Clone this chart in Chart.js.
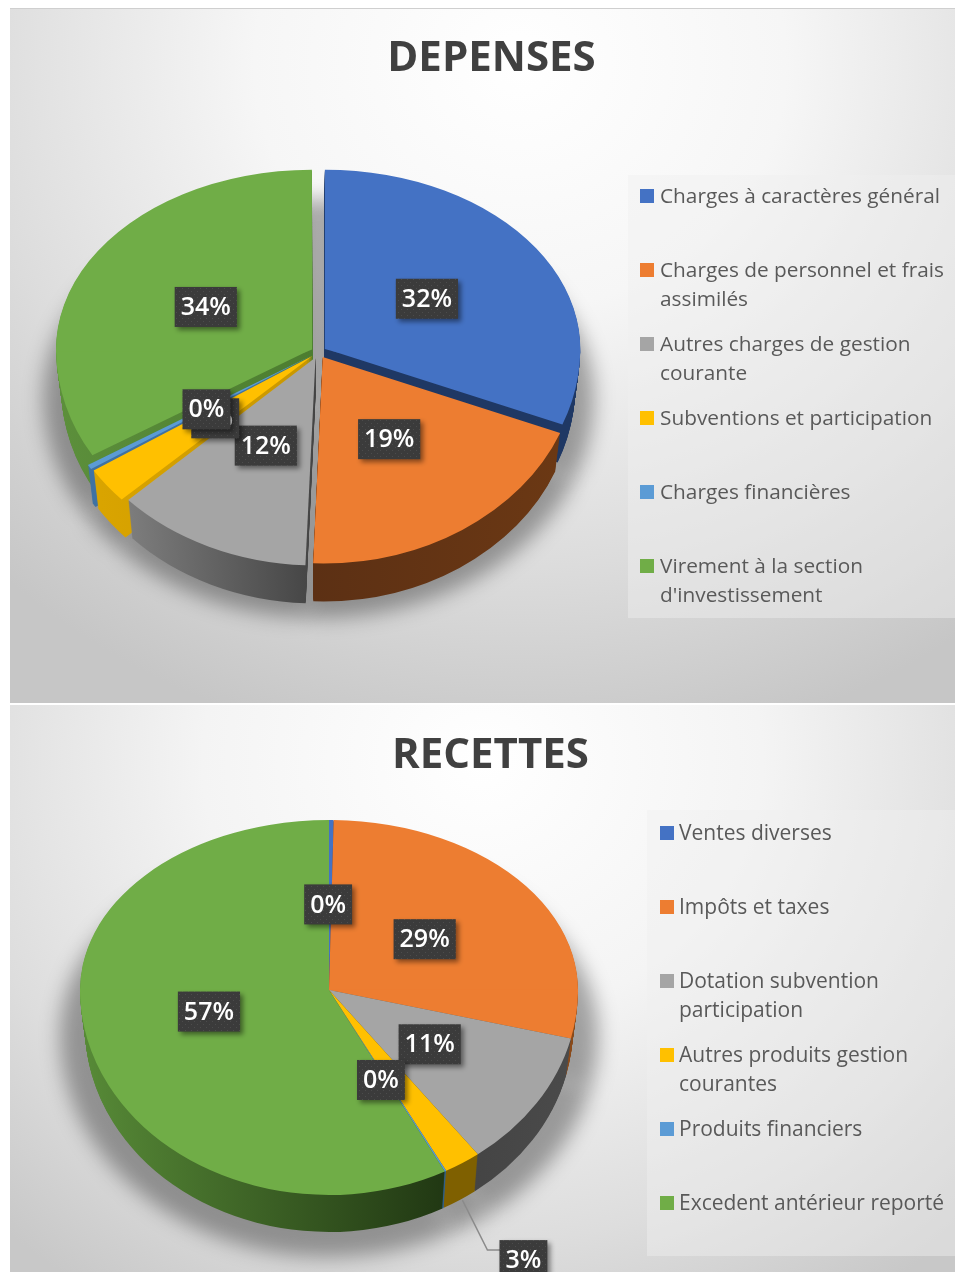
<!DOCTYPE html>
<html><head><meta charset="utf-8">
<style>
html,body{margin:0;padding:0;background:#fff;width:955px;height:1272px;overflow:hidden}
.panel{position:absolute;left:10px;width:945px;box-sizing:border-box}
#p1{top:8px;height:695px;background:radial-gradient(ellipse 760px 700px at 54% 8%,#ffffff 0%,#f6f6f6 35%,#dcdcdc 72%,#c6c6c6 100%);box-shadow:inset 0 1px 0 #cfcfcf}
#p2{top:705px;height:567px;background:radial-gradient(ellipse 700px 640px at 50% 10%,#ffffff 0%,#f4f4f4 40%,#dddddd 75%,#c8c8c8 100%)}
canvas{display:block;position:absolute;left:0;top:0}
</style>
<script src="https://cdn.jsdelivr.net/npm/chart.js@4"></script>
</head><body>
<div class="panel" id="p1"><canvas id="c1" width="945" height="695"></canvas></div>
<div class="panel" id="p2"><canvas id="c2" width="945" height="567"></canvas></div>
<script>
const depTitle = "DEPENSES";
const depCategories = ["Charges à caractères général","Charges de personnel et frais assimilés","Autres charges de gestion courante","Subventions et participation","Charges financières","Virement à la section d'investissement"];
const depValues = [31.0, 19.6, 12.4, 2.9, 0.5, 33.6];
const depPercents = ["32%","19%","12%","3%","0%","34%"];
const recTitle = "RECETTES";
const recCategories = ["Ventes diverses","Impôts et taxes","Dotation subvention participation","Autres produits gestion courantes","Produits financiers","Excedent antérieur reporté"];
const recValues = [0.3, 28.5, 11.0, 2.4, 0.1, 57.7];
const recPercents = ["0%","29%","11%","3%","0%","57%"];
const sliceColors = ["#4472c4","#ed7d31","#a5a5a5","#ffc000","#5b9bd5","#70ad47"];
const depSides = [["#1f3864","#1f3864"],["#5c3014","#6b3814"],["#7c7c7c","#444444"],["#d9a400","#c99700"],["#3f72a3","#3f72a3"],["#5c8f3b","#4c7d30"]];
const recSides = [["#203864","#203864"],["#8a4a1a","#8a4a1a"],["#3c3c3c","#4a4a4a"],["#7f6000","#7f6000"],["#2f5f8a","#2f5f8a"],["#578a37","#213813"]];

const FONT = '"Open Sans"';
let dotPattern = null;
function dots(ctx){
  if(dotPattern) return dotPattern;
  const c=document.createElement('canvas');c.width=c.height=6;
  const x=c.getContext('2d');x.fillStyle='#3b3b3b';x.fillRect(0,0,6,6);
  x.fillStyle='#4c4c4c';x.fillRect(1,1,1,1);x.fillRect(4,4,1,1);
  return dotPattern=ctx.createPattern(c,'repeat');
}
function paintArc(el,ctx,fill,noOffset){
  const p=Object.create(el);
  p.options=Object.assign({},el.options,{backgroundColor:fill,borderWidth:0});
  if(noOffset) p.options.offset=0;
  Chart.ArcElement.prototype.draw.call(p,ctx);
}
function mapped(chart,ctx,el,m,fn,lap){
  const split=el.y+m.dy, l=lap===undefined?0.5:lap;
  [[0,split+l,m.syT],[split-l,chart.height-split+1,m.syB]].forEach(([y,h,sy])=>{
    ctx.save();
    ctx.beginPath();ctx.rect(0,y,chart.width,h);ctx.clip();
    ctx.translate(el.x,split);ctx.scale(m.sx,sy);ctx.translate(-el.x,-el.y);
    fn();
    ctx.restore();
  });
}
function sideFill(ctx,el,stops){
  let a=Infinity,b=-Infinity;
  for(let i=0;i<=24;i++){
    const t=el.startAngle+(el.endAngle-el.startAngle)*i/24;
    const x=el.x+el.outerRadius*Math.cos(t);
    a=Math.min(a,x);b=Math.max(b,x);
  }
  a=Math.min(a,el.x);b=Math.max(b,el.x);
  const g=ctx.createLinearGradient(a,0,b,0);
  g.addColorStop(0,stops[0]);g.addColorStop(1,stops[1]);
  return g;
}
const pie3d={
  id:'pie3d',
  afterLayout(chart,args,o){
    chart.chartArea={left:o.cx-400,right:o.cx+400,top:o.cy-400,bottom:o.cy+400,width:800,height:800};
  },
  beforeDatasetsDraw(chart,args,o){
    const ctx=chart.ctx, arcs=chart.getDatasetMeta(0).data;
    const ds=chart.data.datasets[0];
    const R=arcs[0].outerRadius, top={dy:0,sx:1,syT:o.ryTop/R,syB:o.ryBottom/R};
    // legend backdrop
    ctx.save();ctx.fillStyle='rgba(240,240,240,0.45)';
    ctx.fillRect(o.legendBox[0],o.legendBox[1],o.legendBox[2],o.legendBox[3]);ctx.restore();
    // soft ground shadow
    ctx.save();ctx.filter='blur('+o.shadow.blur+'px)';
    const sh=o.shadow;
    arcs.forEach(el=>{
      if(el.circumference>0) mapped(chart,ctx,el,{dy:sh.dy,sx:sh.sx,syT:sh.ryTop/R,syB:sh.ryBottom/R},()=>paintArc(el,ctx,sh.color,true),0);
    });
    ctx.restore();
    // walls, bottom layer first; lower layers recede slightly
    const fills=arcs.map((el,i)=>sideFill(ctx,el,o.sides[i]));
    for(let d=o.depth;d>0;d--){
      const sx=1-(o.taper/R)*(d/o.depth);
      arcs.forEach((el,i)=>mapped(chart,ctx,el,{...top,dy:d,sx:sx},()=>paintArc(el,ctx,fills[i])));
    }
    // top faces
    arcs.forEach((el,i)=>mapped(chart,ctx,el,top,()=>paintArc(el,ctx,ds.backgroundColor[i])));
    // value boxes
    const centre=(el,frac)=>{
      const t=(el.startAngle+el.endAngle)/2, e=(el.options.offset||0)/4;
      const rx=Math.cos(t)*(R*frac+e), ry=Math.sin(t)*(R*frac+e);
      return {x:el.x+rx,y:el.y+ry*(ry<0?top.syT:top.syB)};
    };
    ctx.save();
    ctx.font='600 25px '+FONT;ctx.textAlign='center';ctx.textBaseline='middle';
    arcs.forEach((el,i)=>{
      const txt=o.percents[i];
      let p=centre(el,o.labelRadius);
      if(o.callout&&o.callout.index===i){
        const a=centre(el,1);a.y+=o.depth;
        p={x:a.x+o.callout.dx,y:a.y+o.callout.dy};
        ctx.save();ctx.strokeStyle='#8a8a8a';ctx.lineWidth=1.5;ctx.beginPath();
        ctx.moveTo(a.x,a.y);ctx.lineTo(p.x-36,p.y-10);ctx.lineTo(p.x-22,p.y-10);ctx.stroke();ctx.restore();
      } else {
        p.x+=o.nudges[i][0];p.y+=o.nudges[i][1];
      }
      const w=ctx.measureText(txt).width+12,h=40;
      ctx.save();
      ctx.shadowColor='rgba(0,0,0,0.45)';ctx.shadowBlur=5;ctx.shadowOffsetX=3;ctx.shadowOffsetY=3;
      ctx.fillStyle=dots(ctx);ctx.fillRect(p.x-w/2,p.y-h/2,w,h);ctx.restore();
      ctx.fillStyle='#ffffff';ctx.fillText(txt,p.x,p.y+1);
    });
    ctx.restore();
    // legend
    ctx.save();
    ctx.font=o.legend.size+'px '+FONT;ctx.textBaseline='middle';
    chart.data.labels.forEach((lab,i)=>{
      const y=o.legend.y+i*o.legend.step;
      ctx.fillStyle=ds.backgroundColor[i];ctx.fillRect(o.legend.x,y-7,14,14);
      const lines=[];let cur='';
      lab.split(' ').forEach(w=>{
        const t=cur?cur+' '+w:w;
        if(ctx.measureText(t).width>o.legend.maxWidth&&cur){lines.push(cur);cur=w;}else cur=t;
      });
      lines.push(cur);
      ctx.fillStyle='#595959';
      lines.forEach((l,k)=>ctx.fillText(l,o.legend.x+o.legend.gap,y+1+k*29));
    });
    ctx.restore();
    return false;
  }
};
function makeChart(id,title,labels,values,cfg,titleLeft){
  return new Chart(document.getElementById(id),{
    type:'pie',
    data:{labels:labels,datasets:[{data:values,backgroundColor:sliceColors,borderWidth:0,offset:cfg.offset,radius:cfg.radius}]},
    options:{
      responsive:false,animation:false,devicePixelRatio:1,
      layout:{padding:{left:titleLeft,top:0,right:0,bottom:0}},
      plugins:{
        legend:{display:false},tooltip:{enabled:false},
        title:{display:true,text:title,color:'#404040',font:{family:FONT,size:42,weight:'700',lineHeight:1.2},padding:{top:26,bottom:0}},
        pie3d:cfg
      }
    },
    plugins:[pie3d]
  });
}
makeChart('c1',depTitle,depCategories,depValues,{
  cx:308.6,cy:344,radius:255,ryTop:179,ryBottom:206,depth:38,taper:5,offset:30,labelRadius:0.47,sides:depSides,percents:depPercents,
  nudges:[[3,-3],[1,1],[0,0],[-3,3],[-4,3],[-2,-1]],
  shadow:{dy:45,sx:1.08,ryTop:197,ryBottom:221,blur:10,color:'rgba(0,0,0,0.34)'},
  legendBox:[618,167,327,443],legend:{x:630,y:188,step:74,maxWidth:290,gap:20,size:20.8}
},18);
makeChart('c2',recTitle,recCategories,recValues,{
  cx:319,cy:285,radius:249,ryTop:170,ryBottom:205,depth:37,taper:5,offset:0,labelRadius:0.48,sides:recSides,percents:recPercents,
  nudges:[[-2,-4],[1,-1],[1,0],[0,0],[-4,3],[-4,-2]],
  shadow:{dy:45,sx:1.08,ryTop:190,ryBottom:222,blur:10,color:'rgba(0,0,0,0.34)'},
  callout:{index:3,dx:61,dy:60},
  legendBox:[637,105,308,446],legend:{x:650,y:128,step:74,maxWidth:272,gap:19,size:21}
},16);
</script>
</body></html>
